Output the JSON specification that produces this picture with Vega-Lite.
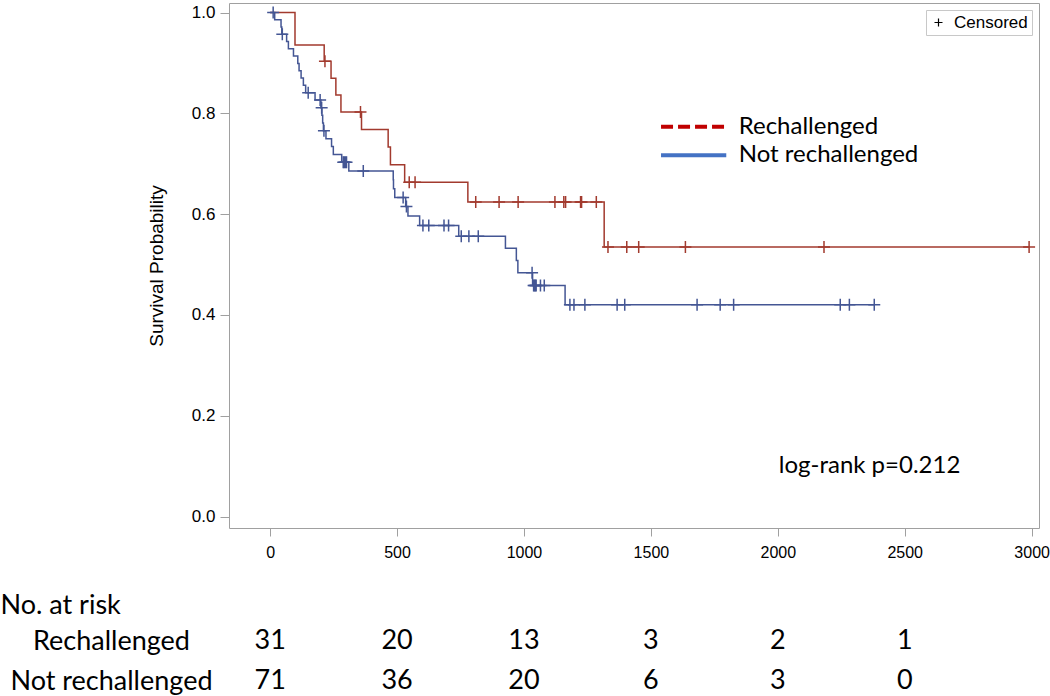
{
  "$schema": "https://vega.github.io/schema/vega-lite/v6.json",
  "padding": {"left": 0, "top": 2, "right": 0, "bottom": 0},
  "background": "white",
  "config": {"view": {"stroke": null}, "font": "Liberation Sans"},
  "datasets": {
    "km": [
      {"group": "Rechallenged", "time": 0, "surv": 1, "cens": 0},
      {"group": "Rechallenged", "time": 98, "surv": 0.93548, "cens": 0},
      {"group": "Rechallenged", "time": 213, "surv": 0.90323, "cens": 0},
      {"group": "Rechallenged", "time": 216, "surv": 0.90323, "cens": 1},
      {"group": "Rechallenged", "time": 240, "surv": 0.86977, "cens": 0},
      {"group": "Rechallenged", "time": 259, "surv": 0.83632, "cens": 0},
      {"group": "Rechallenged", "time": 279, "surv": 0.80287, "cens": 0},
      {"group": "Rechallenged", "time": 356, "surv": 0.80287, "cens": 1},
      {"group": "Rechallenged", "time": 360, "surv": 0.76796, "cens": 0},
      {"group": "Rechallenged", "time": 465, "surv": 0.73305, "cens": 0},
      {"group": "Rechallenged", "time": 474, "surv": 0.69814, "cens": 0},
      {"group": "Rechallenged", "time": 530, "surv": 0.66323, "cens": 0},
      {"group": "Rechallenged", "time": 548, "surv": 0.66323, "cens": 1},
      {"group": "Rechallenged", "time": 571, "surv": 0.66323, "cens": 1},
      {"group": "Rechallenged", "time": 779, "surv": 0.62422, "cens": 0},
      {"group": "Rechallenged", "time": 810, "surv": 0.62422, "cens": 1},
      {"group": "Rechallenged", "time": 902, "surv": 0.62422, "cens": 1},
      {"group": "Rechallenged", "time": 977, "surv": 0.62422, "cens": 1},
      {"group": "Rechallenged", "time": 1122, "surv": 0.62422, "cens": 1},
      {"group": "Rechallenged", "time": 1157, "surv": 0.62422, "cens": 1},
      {"group": "Rechallenged", "time": 1164, "surv": 0.62422, "cens": 1},
      {"group": "Rechallenged", "time": 1223, "surv": 0.62422, "cens": 1},
      {"group": "Rechallenged", "time": 1227, "surv": 0.62422, "cens": 1},
      {"group": "Rechallenged", "time": 1285, "surv": 0.62422, "cens": 1},
      {"group": "Rechallenged", "time": 1316, "surv": 0.53505, "cens": 0},
      {"group": "Rechallenged", "time": 1331, "surv": 0.53505, "cens": 1},
      {"group": "Rechallenged", "time": 1405, "surv": 0.53505, "cens": 1},
      {"group": "Rechallenged", "time": 1452, "surv": 0.53505, "cens": 1},
      {"group": "Rechallenged", "time": 1636, "surv": 0.53505, "cens": 1},
      {"group": "Rechallenged", "time": 2182, "surv": 0.53505, "cens": 1},
      {"group": "Rechallenged", "time": 2990, "surv": 0.53505, "cens": 1},
      {"group": "Not rechallenged", "time": 0, "surv": 1, "cens": 0},
      {"group": "Not rechallenged", "time": 12, "surv": 1, "cens": 1},
      {"group": "Not rechallenged", "time": 18, "surv": 0.98571, "cens": 0},
      {"group": "Not rechallenged", "time": 43, "surv": 0.97143, "cens": 0},
      {"group": "Not rechallenged", "time": 46, "surv": 0.95714, "cens": 0},
      {"group": "Not rechallenged", "time": 48, "surv": 0.95714, "cens": 1},
      {"group": "Not rechallenged", "time": 65, "surv": 0.94264, "cens": 0},
      {"group": "Not rechallenged", "time": 72, "surv": 0.92814, "cens": 0},
      {"group": "Not rechallenged", "time": 92, "surv": 0.91363, "cens": 0},
      {"group": "Not rechallenged", "time": 109, "surv": 0.89913, "cens": 0},
      {"group": "Not rechallenged", "time": 114, "surv": 0.88463, "cens": 0},
      {"group": "Not rechallenged", "time": 122, "surv": 0.87013, "cens": 0},
      {"group": "Not rechallenged", "time": 131, "surv": 0.85563, "cens": 0},
      {"group": "Not rechallenged", "time": 140, "surv": 0.84113, "cens": 0},
      {"group": "Not rechallenged", "time": 150, "surv": 0.84113, "cens": 1},
      {"group": "Not rechallenged", "time": 177, "surv": 0.82637, "cens": 0},
      {"group": "Not rechallenged", "time": 197, "surv": 0.82637, "cens": 1},
      {"group": "Not rechallenged", "time": 200, "surv": 0.81135, "cens": 0},
      {"group": "Not rechallenged", "time": 203, "surv": 0.81135, "cens": 1},
      {"group": "Not rechallenged", "time": 204, "surv": 0.79604, "cens": 0},
      {"group": "Not rechallenged", "time": 207, "surv": 0.78073, "cens": 0},
      {"group": "Not rechallenged", "time": 210, "surv": 0.76542, "cens": 0},
      {"group": "Not rechallenged", "time": 212, "surv": 0.76542, "cens": 1},
      {"group": "Not rechallenged", "time": 220, "surv": 0.7498, "cens": 0},
      {"group": "Not rechallenged", "time": 242, "surv": 0.73418, "cens": 0},
      {"group": "Not rechallenged", "time": 249, "surv": 0.71856, "cens": 0},
      {"group": "Not rechallenged", "time": 282, "surv": 0.70294, "cens": 0},
      {"group": "Not rechallenged", "time": 288, "surv": 0.70294, "cens": 1},
      {"group": "Not rechallenged", "time": 292, "surv": 0.70294, "cens": 1},
      {"group": "Not rechallenged", "time": 297, "surv": 0.70294, "cens": 1},
      {"group": "Not rechallenged", "time": 301, "surv": 0.70294, "cens": 1},
      {"group": "Not rechallenged", "time": 310, "surv": 0.6858, "cens": 0},
      {"group": "Not rechallenged", "time": 367, "surv": 0.6858, "cens": 1},
      {"group": "Not rechallenged", "time": 485, "surv": 0.66821, "cens": 0},
      {"group": "Not rechallenged", "time": 486, "surv": 0.65062, "cens": 0},
      {"group": "Not rechallenged", "time": 491, "surv": 0.63304, "cens": 0},
      {"group": "Not rechallenged", "time": 524, "surv": 0.63304, "cens": 1},
      {"group": "Not rechallenged", "time": 534, "surv": 0.61495, "cens": 0},
      {"group": "Not rechallenged", "time": 537, "surv": 0.61495, "cens": 1},
      {"group": "Not rechallenged", "time": 543, "surv": 0.59632, "cens": 0},
      {"group": "Not rechallenged", "time": 589, "surv": 0.57769, "cens": 0},
      {"group": "Not rechallenged", "time": 602, "surv": 0.57769, "cens": 1},
      {"group": "Not rechallenged", "time": 625, "surv": 0.57769, "cens": 1},
      {"group": "Not rechallenged", "time": 685, "surv": 0.57769, "cens": 1},
      {"group": "Not rechallenged", "time": 703, "surv": 0.57769, "cens": 1},
      {"group": "Not rechallenged", "time": 743, "surv": 0.55629, "cens": 0},
      {"group": "Not rechallenged", "time": 753, "surv": 0.55629, "cens": 1},
      {"group": "Not rechallenged", "time": 783, "surv": 0.55629, "cens": 1},
      {"group": "Not rechallenged", "time": 820, "surv": 0.55629, "cens": 1},
      {"group": "Not rechallenged", "time": 927, "surv": 0.5321, "cens": 0},
      {"group": "Not rechallenged", "time": 970, "surv": 0.50791, "cens": 0},
      {"group": "Not rechallenged", "time": 976, "surv": 0.48372, "cens": 0},
      {"group": "Not rechallenged", "time": 1032, "surv": 0.48372, "cens": 1},
      {"group": "Not rechallenged", "time": 1034, "surv": 0.45826, "cens": 0},
      {"group": "Not rechallenged", "time": 1038, "surv": 0.45826, "cens": 1},
      {"group": "Not rechallenged", "time": 1041, "surv": 0.45826, "cens": 1},
      {"group": "Not rechallenged", "time": 1045, "surv": 0.45826, "cens": 1},
      {"group": "Not rechallenged", "time": 1048, "surv": 0.45826, "cens": 1},
      {"group": "Not rechallenged", "time": 1065, "surv": 0.45826, "cens": 1},
      {"group": "Not rechallenged", "time": 1080, "surv": 0.45826, "cens": 1},
      {"group": "Not rechallenged", "time": 1162, "surv": 0.42007, "cens": 0},
      {"group": "Not rechallenged", "time": 1181, "surv": 0.42007, "cens": 1},
      {"group": "Not rechallenged", "time": 1197, "surv": 0.42007, "cens": 1},
      {"group": "Not rechallenged", "time": 1240, "surv": 0.42007, "cens": 1},
      {"group": "Not rechallenged", "time": 1367, "surv": 0.42007, "cens": 1},
      {"group": "Not rechallenged", "time": 1397, "surv": 0.42007, "cens": 1},
      {"group": "Not rechallenged", "time": 1682, "surv": 0.42007, "cens": 1},
      {"group": "Not rechallenged", "time": 1773, "surv": 0.42007, "cens": 1},
      {"group": "Not rechallenged", "time": 1826, "surv": 0.42007, "cens": 1},
      {"group": "Not rechallenged", "time": 2246, "surv": 0.42007, "cens": 1},
      {"group": "Not rechallenged", "time": 2282, "surv": 0.42007, "cens": 1},
      {"group": "Not rechallenged", "time": 2380, "surv": 0.42007, "cens": 1}
    ],
    "risk": [
      {"group": "Rechallenged", "time": 0, "n": 31},
      {"group": "Rechallenged", "time": 500, "n": 20},
      {"group": "Rechallenged", "time": 1000, "n": 13},
      {"group": "Rechallenged", "time": 1500, "n": 3},
      {"group": "Rechallenged", "time": 2000, "n": 2},
      {"group": "Rechallenged", "time": 2500, "n": 1},
      {"group": "Not rechallenged", "time": 0, "n": 71},
      {"group": "Not rechallenged", "time": 500, "n": 36},
      {"group": "Not rechallenged", "time": 1000, "n": 20},
      {"group": "Not rechallenged", "time": 1500, "n": 6},
      {"group": "Not rechallenged", "time": 2000, "n": 3},
      {"group": "Not rechallenged", "time": 2500, "n": 0}
    ],
    "note": [{"label": "log-rank p=0.212"}],
    "legRe": [{"label": "Rechallenged"}],
    "legNot": [{"label": "Not rechallenged"}]
  },
  "spacing": 30,
  "vconcat": [
    {
      "width": 810,
      "height": 525,
      "view": {"stroke": "#a0a0a0", "strokeWidth": 1},
      "layer": [
        {
          "data": {"name": "km"},
          "mark": {"type": "line", "interpolate": "step-after", "strokeWidth": 1.5},
          "encoding": {
            "x": {"field": "time", "type": "quantitative",
              "scale": {"domain": [-162, 3029], "nice": false, "zero": false},
              "axis": {"values": [0, 500, 1000, 1500, 2000, 2500, 3000], "format": "d", "title": null, "domain": false, "grid": false,
                "tickSize": 8, "tickColor": "#a0a0a0", "labelFontSize": 16, "labelColor": "black", "labelPadding": 8, "labelFont": "Liberation Sans"}},
            "y": {"field": "surv", "type": "quantitative",
              "scale": {"domain": [-0.0228, 1.019], "nice": false, "zero": false},
              "axis": {"values": [0, 0.2, 0.4, 0.6, 0.8, 1.0], "format": ".1f", "title": "Survival Probability", "domain": false, "grid": false,
                "tickSize": 9, "tickColor": "#a0a0a0", "labelFontSize": 17, "labelColor": "black", "labelPadding": 5, "labelFont": "Liberation Sans",
                "titleFont": "Liberation Sans", "titleFontSize": 19, "titleFontWeight": "normal", "titleColor": "black", "titlePadding": 25}},
            "color": {"field": "group", "type": "nominal",
              "scale": {"domain": ["Rechallenged", "Not rechallenged"], "range": ["#A23A2E", "#445694"]},
              "legend": null}
          }
        },
        {
          "data": {"name": "km"},
          "transform": [{"filter": "datum.cens == 1"}],
          "mark": {"type": "point", "shape": "M-1,0L1,0M0,-1L0,1", "filled": false, "size": 144, "strokeWidth": 1.5, "opacity": 1},
          "encoding": {
            "x": {"field": "time", "type": "quantitative"},
            "y": {"field": "surv", "type": "quantitative"},
            "color": {"field": "group", "type": "nominal", "legend": null},
            "shape": {"datum": "Censored", "scale": {"range": ["M-1,0L1,0M0,-1L0,1"]},
              "legend": {"title": null, "orient": "top-right", "offset": 7, "strokeColor": "#c8c8c8", "padding": 4,
                "symbolStrokeColor": "black", "symbolFillColor": "transparent", "symbolSize": 64, "symbolStrokeWidth": 1.2,
                "labelFont": "Liberation Sans", "labelFontSize": 17, "labelColor": "black", "labelOffset": 7}}
          }
        },
        {
          "data": {"name": "legRe"},
          "mark": {"type": "rule", "color": "#C00000", "strokeWidth": 4, "strokeDash": [12, 5]},
          "encoding": {"x": {"datum": 1540}, "x2": {"datum": 1789}, "y": {"datum": 0.7735}}
        },
        {
          "data": {"name": "legNot"},
          "mark": {"type": "rule", "color": "#4472C4", "strokeWidth": 4},
          "encoding": {"x": {"datum": 1540}, "x2": {"datum": 1797}, "y": {"datum": 0.7168}}
        },
        {
          "data": {"name": "legRe"},
          "mark": {"type": "text", "align": "left", "baseline": "middle", "font": "Lato", "fontSize": 24, "color": "black"},
          "encoding": {"x": {"datum": 1846}, "y": {"datum": 0.7735}, "text": {"field": "label"}}
        },
        {
          "data": {"name": "legNot"},
          "mark": {"type": "text", "align": "left", "baseline": "middle", "font": "Lato", "fontSize": 24, "color": "black"},
          "encoding": {"x": {"datum": 1846}, "y": {"datum": 0.7168}, "text": {"field": "label"}}
        },
        {
          "data": {"name": "note"},
          "mark": {"type": "text", "align": "left", "baseline": "middle", "font": "Lato", "fontSize": 24, "color": "black"},
          "encoding": {
            "x": {"datum": 2004},
            "y": {"datum": 0.1},
            "text": {"field": "label"}
          }
        }
      ]
    },
    {
      "width": 810,
      "height": 80,
      "data": {"name": "risk"},
      "mark": {"type": "text", "font": "Lato", "fontSize": 27, "baseline": "middle", "align": "center", "color": "black"},
      "encoding": {
        "x": {"field": "time", "type": "quantitative", "scale": {"domain": [-162, 3029], "nice": false, "zero": false}, "axis": null},
        "y": {"field": "group", "type": "nominal",
          "scale": {"type": "point", "domain": ["Rechallenged", "Not rechallenged"], "padding": 0.5},
          "axis": {"title": "No. at risk", "titleAngle": 0, "titleAlign": "left", "titleBaseline": "middle", "titleX": -229, "titleY": -16,
            "titleFont": "Lato", "titleFontSize": 27, "titleFontWeight": "normal", "titleColor": "black",
            "labelFont": "Lato", "labelFontSize": 27, "labelColor": "black", "labelAlign": "center", "labelBaseline": "middle",
            "labelPadding": 118, "labelLimit": 0, "ticks": false, "domain": false, "grid": false}},
        "text": {"field": "n", "type": "quantitative"}
      }
    }
  ]
}
